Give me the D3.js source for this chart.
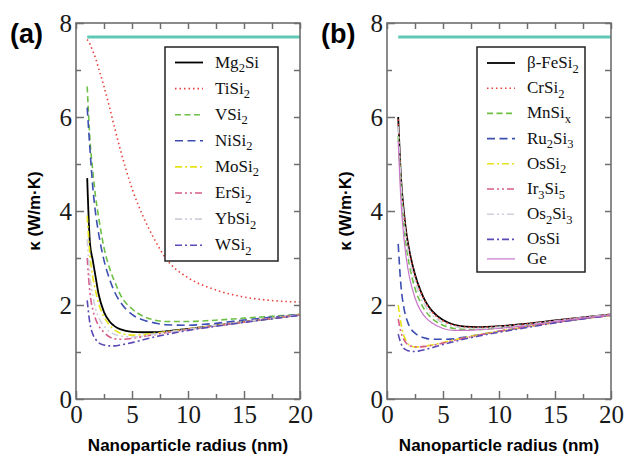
<!DOCTYPE html>
<html>
<head>
<meta charset="utf-8">
<script src="https://cdn.jsdelivr.net/npm/d3@7"></script>
<style>
  html, body { margin: 0; padding: 0; background: #fff; }
  svg { display: block; }
</style>
</head>
<body>
<svg id="chart" width="625" height="458"></svg>
<script>
// Nanoparticle radius grid (nm) shared by every curve
const radius = [1, 1.25, 1.5, 1.75, 2, 2.5, 3, 3.5, 4, 5, 6, 7, 8, 10, 12, 15, 20];

// Bulk Si reference conductivity (W/m·K), drawn over the radius span
const bulkRange = [1, 20];
const bulkKappa = 7.7;

// Axis ticks
const xMajor = [0, 5, 10, 15, 20];
const xMinor = [2.5, 7.5, 12.5, 17.5];
const yMajor = [0, 2, 4, 6, 8];
const yMinor = [1, 3, 5, 7];

// (a) silicides
const mg2si = [4.70, 3.30, 2.95, 2.60, 2.25, 1.85, 1.65, 1.54, 1.48, 1.43, 1.42, 1.42, 1.44, 1.49, 1.55, 1.64, 1.79];
const tisi2 = [7.65, 7.55, 7.40, 7.25, 7.05, 6.65, 6.20, 5.72, 5.27, 4.48, 3.88, 3.40, 3.00, 2.58, 2.36, 2.17, 2.06];
const vsi2  = [6.65, 5.50, 4.85, 4.30, 3.90, 3.22, 2.78, 2.47, 2.20, 1.92, 1.76, 1.68, 1.65, 1.65, 1.67, 1.72, 1.80];
const nisi2 = [6.20, 5.30, 4.50, 3.95, 3.55, 2.95, 2.55, 2.25, 2.05, 1.80, 1.68, 1.62, 1.58, 1.57, 1.60, 1.68, 1.80];
const mosi2 = [3.90, 3.05, 2.60, 2.30, 2.05, 1.75, 1.57, 1.46, 1.40, 1.36, 1.37, 1.40, 1.43, 1.49, 1.55, 1.64, 1.79];
const ersi2 = [3.00, 2.25, 1.90, 1.70, 1.57, 1.42, 1.32, 1.28, 1.27, 1.29, 1.33, 1.37, 1.41, 1.48, 1.54, 1.64, 1.79];
const ybsi2 = [3.40, 2.60, 2.20, 1.92, 1.75, 1.55, 1.43, 1.37, 1.34, 1.32, 1.34, 1.38, 1.42, 1.48, 1.55, 1.64, 1.79];
const wsi2  = [2.10, 1.60, 1.38, 1.27, 1.20, 1.15, 1.13, 1.13, 1.15, 1.20, 1.26, 1.32, 1.37, 1.46, 1.53, 1.63, 1.78];

// (b) silicides and Ge
const fesi2  = [6.00, 4.70, 4.00, 3.50, 3.15, 2.65, 2.30, 2.05, 1.88, 1.68, 1.58, 1.54, 1.53, 1.55, 1.59, 1.67, 1.80];
const crsi2  = [5.95, 4.65, 3.96, 3.47, 3.12, 2.62, 2.28, 2.03, 1.86, 1.66, 1.57, 1.53, 1.52, 1.55, 1.59, 1.67, 1.80];
const mnsix  = [5.60, 4.50, 3.70, 3.20, 2.85, 2.35, 2.05, 1.85, 1.72, 1.57, 1.50, 1.48, 1.48, 1.51, 1.56, 1.65, 1.79];
const ru2si3 = [3.30, 2.40, 1.95, 1.70, 1.55, 1.40, 1.33, 1.29, 1.27, 1.27, 1.28, 1.32, 1.36, 1.44, 1.52, 1.63, 1.78];
const ossi2  = [2.00, 1.60, 1.35, 1.22, 1.15, 1.11, 1.11, 1.13, 1.15, 1.20, 1.26, 1.31, 1.36, 1.44, 1.52, 1.63, 1.78];
const ir3si5 = [1.70, 1.42, 1.27, 1.18, 1.14, 1.11, 1.11, 1.12, 1.14, 1.19, 1.25, 1.30, 1.35, 1.44, 1.52, 1.63, 1.78];
const os2si3 = [5.80, 4.60, 3.85, 3.35, 3.00, 2.50, 2.17, 1.95, 1.80, 1.62, 1.54, 1.51, 1.50, 1.53, 1.57, 1.66, 1.80];
const ossi   = [1.38, 1.18, 1.08, 1.04, 1.02, 1.01, 1.03, 1.06, 1.09, 1.16, 1.22, 1.28, 1.33, 1.42, 1.50, 1.62, 1.78];
const ge     = [5.50, 4.20, 3.45, 2.95, 2.60, 2.15, 1.88, 1.72, 1.62, 1.50, 1.46, 1.46, 1.47, 1.50, 1.55, 1.65, 1.79];

// Line styles
const DOT = "1.5,3", DASH = "6,3.5", LDASH = "8,4.5", DASHDOT = "7,3,2,3", DASHDOTDOT = "7,3,2,3,2,3";

const panelA = {
  tag: "(a)",
  left: 76, right: 300, top: 23, bottom: 399,
  legend: { x: 165, y: 47, w: 113, h: 214, first: 15.5, step: 26.1, lastStep: 26.1 },
  series: [
    { label: "Mg_2Si", values: mg2si, color: "#000000", dash: null, width: 1.8 },
    { label: "TiSi_2", values: tisi2, color: "#e8413c", dash: DOT, width: 1.6 },
    { label: "VSi_2",  values: vsi2,  color: "#6dbf45", dash: DASH, width: 1.6 },
    { label: "NiSi_2", values: nisi2, color: "#3e4fb2", dash: LDASH, width: 1.6 },
    { label: "MoSi_2", values: mosi2, color: "#e6e21a", dash: DASHDOT, width: 1.6 },
    { label: "ErSi_2", values: ersi2, color: "#d65c8c", dash: DASHDOTDOT, width: 1.6 },
    { label: "YbSi_2", values: ybsi2, color: "#cfd0dc", dash: DASHDOTDOT, width: 1.6 },
    { label: "WSi_2",  values: wsi2,  color: "#5b4ab6", dash: DASHDOT, width: 1.6 }
  ]
};

const panelB = {
  tag: "(b)",
  left: 387, right: 611, top: 23, bottom: 399,
  legend: { x: 477, y: 47, w: 108, h: 225, first: 16, step: 25.2, lastStep: 19.5 },
  series: [
    { label: "β-FeSi_2", values: fesi2,  color: "#000000", dash: null, width: 1.8 },
    { label: "CrSi_2",   values: crsi2,  color: "#e8413c", dash: DOT, width: 1.6 },
    { label: "MnSi_x",   values: mnsix,  color: "#6dbf45", dash: DASH, width: 1.6 },
    { label: "Ru_2Si_3", values: ru2si3, color: "#3e4fb2", dash: LDASH, width: 1.6 },
    { label: "OsSi_2",   values: ossi2,  color: "#e6e21a", dash: DASHDOT, width: 1.6 },
    { label: "Ir_3Si_5", values: ir3si5, color: "#d65c8c", dash: DASHDOTDOT, width: 1.6 },
    { label: "Os_2Si_3", values: os2si3, color: "#cfd0dc", dash: DASHDOTDOT, width: 1.6 },
    { label: "OsSi",     values: ossi,   color: "#5b4ab6", dash: DASHDOT, width: 1.6 },
    { label: "Ge",       values: ge,     color: "#c876c8", dash: null, width: 1.2 }
  ]
};

const svg = d3.select("#chart");
svg.append("rect").attr("width", 625).attr("height", 458).attr("fill", "#fff");

const AXIS = "#6e6e6e";
const SERIF = "'Liberation Serif', 'Times New Roman', serif";
const SANS = "'Liberation Sans', Arial, sans-serif";

// Writes "Mg_2Si" style labels with subscripted characters
function richLabel(sel, label) {
  const parts = label.split(/_(.)/);
  parts.forEach((p, i) => {
    if (!p) return;
    const sub = i % 2 === 1;
    sel.append("tspan")
      .attr("font-size", sub ? 12.5 : 17)
      .attr("dy", sub ? 4.5 : (i > 0 && parts[i - 1] && (i - 1) % 2 === 1 ? -4.5 : 0))
      .text(p);
  });
}

function drawPanel(p, id) {
  const x = d3.scaleLinear().domain([0, 20]).range([p.left, p.right]);
  const y = d3.scaleLinear().domain([0, 8]).range([p.bottom, p.top]);
  const g = svg.append("g");

  g.append("clipPath").attr("id", "clip" + id)
    .append("rect").attr("x", p.left).attr("y", p.top)
    .attr("width", p.right - p.left).attr("height", p.bottom - p.top);

  const plot = g.append("g").attr("clip-path", `url(#clip${id})`);

  // bulk reference line
  plot.append("line")
    .attr("x1", x(bulkRange[0])).attr("x2", x(bulkRange[1]))
    .attr("y1", y(bulkKappa)).attr("y2", y(bulkKappa))
    .attr("stroke", "#5fc9b6").attr("stroke-width", 3);

  const line = d3.line()
    .x((d, i) => x(radius[i]))
    .y(d => y(d))
    .curve(d3.curveMonotoneX);

  p.series.forEach(s => {
    plot.append("path")
      .attr("d", line(s.values))
      .attr("fill", "none")
      .attr("stroke", s.color)
      .attr("stroke-width", s.width)
      .attr("stroke-dasharray", s.dash);
  });

  // axes: ticks point inward on all four sides
  const styleAxis = a => {
    a.select(".domain").remove();
    a.selectAll("line").attr("stroke", AXIS).attr("stroke-width", 1.5);
    a.selectAll("text").attr("font-family", SERIF).attr("font-size", 25).attr("fill", "#1a1a1a");
  };
  const noLabel = () => "";

  g.append("g").attr("transform", `translate(0,${p.bottom})`)
    .call(d3.axisBottom(x).tickValues(xMajor).tickSize(-8).tickPadding(6).tickFormat(d3.format("d")))
    .call(styleAxis);
  g.append("g").attr("transform", `translate(0,${p.bottom})`)
    .call(d3.axisBottom(x).tickValues(xMinor).tickSize(-5).tickFormat(noLabel)).call(styleAxis);
  g.append("g").attr("transform", `translate(0,${p.top})`)
    .call(d3.axisTop(x).tickValues(xMajor.concat(xMinor)).tickSize(-6).tickFormat(noLabel)).call(styleAxis);

  g.append("g").attr("transform", `translate(${p.left},0)`)
    .call(d3.axisLeft(y).tickValues(yMajor).tickSize(-8).tickPadding(4).tickFormat(d3.format("d")))
    .call(styleAxis);
  g.append("g").attr("transform", `translate(${p.left},0)`)
    .call(d3.axisLeft(y).tickValues(yMinor).tickSize(-5).tickFormat(noLabel)).call(styleAxis);
  g.append("g").attr("transform", `translate(${p.right},0)`)
    .call(d3.axisRight(y).tickValues(yMajor.concat(yMinor)).tickSize(-6).tickFormat(noLabel)).call(styleAxis);

  // frame
  g.append("rect")
    .attr("x", p.left).attr("y", p.top)
    .attr("width", p.right - p.left).attr("height", p.bottom - p.top)
    .attr("fill", "none").attr("stroke", AXIS).attr("stroke-width", 1.6);

  // legend
  const L = p.legend;
  const lg = g.append("g");
  lg.append("rect").attr("x", L.x).attr("y", L.y).attr("width", L.w).attr("height", L.h)
    .attr("fill", "#fff").attr("stroke", "#222").attr("stroke-width", 1.5);
  p.series.forEach((s, i) => {
    const n = p.series.length;
    const cy = L.y + L.first + (i < n - 1 ? i * L.step : (n - 2) * L.step + L.lastStep);
    lg.append("line")
      .attr("x1", L.x + 10).attr("x2", L.x + 38)
      .attr("y1", cy).attr("y2", cy)
      .attr("stroke", s.color).attr("stroke-width", s.width)
      .attr("stroke-dasharray", s.dash);
    const t = lg.append("text")
      .attr("x", L.x + 50).attr("y", cy + 5)
      .attr("font-family", SERIF).attr("fill", "#111");
    richLabel(t, s.label);
  });

  // axis titles
  g.append("text")
    .attr("transform", `translate(${p.left - 42},${(p.top + p.bottom) / 2}) rotate(-90)`)
    .attr("text-anchor", "middle").attr("dy", "0.35em")
    .attr("font-family", SANS).attr("font-weight", "bold").attr("font-size", 17)
    .text("κ (W/m·K)");
  g.append("text")
    .attr("x", (p.left + p.right) / 2).attr("y", 451)
    .attr("text-anchor", "middle")
    .attr("font-family", SANS).attr("font-weight", "bold").attr("font-size", 17)
    .text("Nanoparticle radius (nm)");

  // panel tag
  g.append("text")
    .attr("x", p.left - 66).attr("y", 43)
    .attr("font-family", SANS).attr("font-weight", "bold").attr("font-size", 27)
    .text(p.tag);
}

drawPanel(panelA, "a");
drawPanel(panelB, "b");
</script>
</body>
</html>
